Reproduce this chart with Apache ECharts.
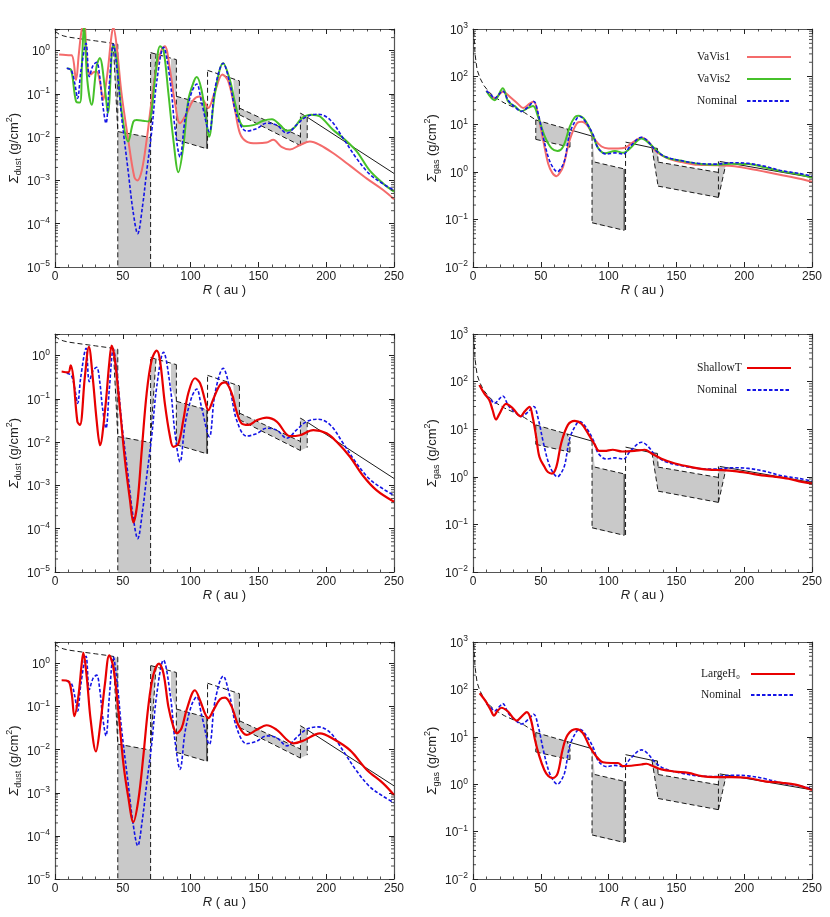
<!DOCTYPE html>
<html><head><meta charset="utf-8">
<script src="https://cdn.jsdelivr.net/npm/echarts@6/dist/echarts.min.js"></script>
<style>html,body{margin:0;padding:0;background:#fff}#c{width:830px;height:917px}</style>
</head><body><div id="c"></div><script>
// ---------------- data ----------------
// Dust: Nominal
const nomDustR = [8.6,12,14.5,16.7,19,22.9,25.3,28,30.7,33,35,37.6,40,43,46,49,54,57.5,61,64.5,67.6,71.3,75,80,85,88.5,92.2,96,100.8,104.5,108,113.8,118,124,129,134,141.3,148.7,156,163.5,171,178,185.6,194,203,212.6,222.5,232,242,250];
const nomDustS = [0.39,0.35,0.18,0.079,0.32,1.48,0.25,0.45,0.54,0.25,0.063,0.021,0.16,1.41,0.32,0.032,0.0016,2.0e-4,5.9e-5,2.5e-4,0.0016,0.0135,0.19,1.2,0.19,0.016,0.0035,0.027,0.11,0.17,0.066,0.0133,0.135,0.51,0.17,0.032,0.0138,0.0158,0.021,0.019,0.0123,0.019,0.030,0.034,0.025,0.0093,0.0032,0.0014,8.3e-4,5.9e-4];
// Dust: VaVis1
const vv1DustR = [3,8,12.3,15.5,17.5,19.7,21.5,23.8,26.3,28.5,30.7,33,35.6,37.5,39.3,41.5,43,45.5,49,54,58.5,60.7,64,67.6,71.3,75,78.7,81,84.8,88.5,92.2,97,102,106.5,110.6,113,118,123.5,127.8,132.7,136.4,141.3,148.7,156,161,167,173.3,180.7,188,195.4,205,217.5,230,242,250];
const vv1DustS = [0.81,0.79,0.78,0.21,0.8,3.1,4.5,0.44,0.28,0.32,0.33,0.2,0.072,0.16,0.44,2.0,3.5,1.26,0.105,0.0087,0.0012,0.001,0.0017,0.0087,0.072,0.44,1.05,1.26,0.36,0.062,0.021,0.035,0.072,0.087,0.062,0.047,0.115,0.28,0.195,0.043,0.0123,0.0079,0.0072,0.0075,0.0087,0.006,0.0052,0.0066,0.0079,0.0066,0.0043,0.0022,0.0011,6.0e-4,3.7e-4];
// Dust: VaVis2
const vv2DustR = [9,12,15.5,18.4,20,21.4,23.8,27,30.7,33,36.9,39,43,45.5,49,54,57.8,60.2,65,68.8,71.3,73.7,77.5,80,83.6,87.3,91,94.6,98.3,102,104.5,108,111.8,113.6,118,124,129,134,139,146.3,153.6,160,166,171,176,182,189,195.4,205,212.6,222.5,232,242,250];
const vv2DustS = [0.39,0.35,0.068,0.063,0.63,4.0,0.21,0.056,0.44,0.68,0.126,0.036,1.38,0.62,0.043,0.0079,0.023,0.025,0.024,0.023,0.043,0.21,1.26,1.05,0.105,0.0087,0.00155,0.006,0.072,0.18,0.245,0.126,0.021,0.0102,0.105,0.51,0.21,0.043,0.018,0.019,0.024,0.026,0.019,0.014,0.016,0.0275,0.033,0.030,0.0148,0.0095,0.0047,0.0017,8.5e-4,5.5e-4];
// Dust: ShallowT
const shDustR = [4.9,9.8,11.6,13.5,16.5,18.4,22,25,27.8,30.7,33.2,36.9,40,41.8,44.2,48,51.6,55.3,57.8,60.7,64,67.6,71.3,75,77.4,81,84.8,87.3,91,94.6,98.3,103.2,107,110.6,113,116.8,121.7,125.4,130.3,134,137.7,142.6,148.7,156,163.5,173.3,180.7,190.5,200.3,207.7,217.5,227,237,250];
const shDustS = [0.43,0.41,0.6,0.32,0.03,0.025,0.32,1.6,0.32,0.032,0.0085,0.055,0.66,1.7,0.79,0.055,0.0038,4.6e-4,1.4e-4,3.8e-4,0.0066,0.135,0.79,1.3,0.79,0.079,0.0135,0.0078,0.0093,0.032,0.135,0.30,0.23,0.093,0.055,0.10,0.21,0.24,0.135,0.05,0.027,0.025,0.032,0.037,0.03,0.0138,0.0145,0.019,0.016,0.0102,0.0046,0.0017,7.8e-4,4.2e-4];
// Dust: LargeH0
const lhDustR = [4.9,9.8,12.3,14.3,17.2,19.7,20.9,23.4,26.3,30.2,33.2,36.9,40,43,46.7,50.4,54,57.8,61.5,65.1,68.8,72.5,76.7,80,83.6,87.3,89.7,93.4,97,103.2,107,110.6,113,116.8,121.7,125.4,130.3,135.2,141.3,148.7,156,163.5,175.8,183,195.4,205,217.5,230,242,250];
const lhDustS = [0.41,0.39,0.20,0.06,0.17,1.0,1.76,0.49,0.049,0.0091,0.034,0.35,1.55,0.83,0.083,0.0049,8.1e-4,2.1e-4,6.9e-4,0.0069,0.1,0.54,1.0,0.59,0.1,0.034,0.024,0.032,0.083,0.24,0.14,0.069,0.054,0.083,0.148,0.162,0.1,0.037,0.022,0.029,0.037,0.029,0.0141,0.0162,0.024,0.018,0.0098,0.0034,0.00166,8.9e-4];

// Gas: Nominal
const nomGasR = [9.9,13,16,19,22,25.9,30.8,35.7,40.6,44.8,48,51.7,55.4,58.5,62.3,65,67.7,71.4,76.4,78.8,83.7,88.7,92.4,98.5,104.7,110.8,115.8,124.4,129.3,134.2,141.6,154,166,178.6,191,203,215.5,228,240,250];
const nomGasS = [50,42,35,42,50,32,23,18.6,23,30,17,5.5,2.1,1.3,1.0,1.2,1.8,6.5,13,14.5,10.5,5.9,3.1,2.35,2.5,2.35,3.4,5.3,4.3,2.9,2.1,1.7,1.5,1.45,1.55,1.5,1.3,1.05,0.93,0.81];
// Gas: VaVis1
const vv1GasR = [9.9,16,22,27,33,37,42,44.8,48,51.7,55.4,58.5,61.6,64,66.5,71.4,76.4,80,85,90,94.8,99.8,107,112,117,124.4,129.3,135.5,144,154,166,178.6,191,203,215.5,228,240,250];
const vv1GasS = [50,35,48,38,27,22,27.5,30,15.5,4.7,1.5,0.95,0.81,0.95,1.3,4.7,10.2,11.2,8.9,4.7,3.4,3.1,3.1,3.2,4.0,5.2,4.3,2.6,1.9,1.6,1.4,1.38,1.32,1.17,1.0,0.85,0.72,0.62];
// Gas: VaVis2
const vv2GasR = [9.9,16,22,25.9,30.8,35.7,40.6,44.3,48,53,58,62.3,66.5,71.4,75,77.6,82.5,88.7,92.4,97.3,104.7,110.8,115.8,124.4,129.3,141.6,154,166,178.6,191,203,215.5,228,240,250];
const vv2GasS = [50,32,57,30,24,18.6,22,24,14.5,5.5,3.1,2.75,3.4,8.9,14,15,12.3,5.5,3.1,2.45,2.75,2.5,3.1,5.0,4.1,2.05,1.7,1.48,1.41,1.48,1.45,1.23,1.02,0.89,0.76];
// Gas: ShallowT
const shGasR = [4.7,8.4,12,14.5,17,19.5,24.4,29.3,35,38,41.7,44,46.6,49,52.8,55.2,58.2,61.4,65,70,75,80,85,89.7,93,97,103,110,119,126.7,131.7,139,149,161,173.6,183.4,193,203,213,222.9,232.7,242.6,250];
const shGasS = [85,56,41,25,16,21,34,27.5,18.6,23.4,29.5,18,6.9,2.6,1.6,1.26,1.17,1.6,5.0,12.3,15,13,8.0,4.8,3.5,3.5,3.7,3.4,3.5,3.7,3.1,2.4,1.9,1.6,1.41,1.38,1.32,1.2,1.07,1.0,0.91,0.78,0.72];
// Gas: LargeH0
const lhGasR = [4.9,9.4,13,15.5,18,21,25.4,32.3,36.5,39.7,42.7,45.7,48.9,52.6,55.5,58.7,62.4,66.1,69.8,76,81,85.9,90.8,95.8,101.9,106.9,110.6,116.7,124.1,127.8,132.8,139,148.8,158.7,168.6,178.4,190.8,203,215.4,227.8,237.7,250];
const lhGasS = [83,56,37,28,35,41,35,22,28,33,23,8.7,3.9,2.0,1.5,1.35,1.7,5.4,11,14.5,12,6.3,3.9,2.9,2.8,2.8,2.4,2.45,2.6,2.7,2.4,2.05,1.85,1.74,1.48,1.41,1.41,1.35,1.15,1.07,0.98,0.76];

// Gap model (shaded ranges) and boundaries: [R, Sigma] vertices
const dustGapPolys = [
  [[43,1.45],[46.3,1.35],[46.3,0.0135]],
  [[46.3,0.0135],[70.5,0.0098],[70.5,1e-5],[46.3,1e-5]],
  [[70.5,0.9],[74.5,0.85],[70.5,0.012]],
  [[85.5,0.66],[89.5,0.62],[89.5,0.088],[85.5,0.2]],
  [[89.5,0.088],[112,0.056],[112,0.0054],[89.5,0.0087]],
  [[131.5,0.22],[136,0.2],[136,0.033],[132.5,0.06]],
  [[136,0.047],[181,0.0104],[181,0.0064],[136,0.033]],
  [[181,0.036],[186,0.029],[186,0.0075],[181,0.0064]]
];
const dustDashed = [
  [[0,2.8],[3,2.4],[6,2.2],[10,2.05],[20,1.85],[30,1.68],[40,1.52],[46.3,1.4]],
  [[46.3,1.4],[46.3,1e-5]],
  [[43,1.45],[46.3,0.0135]],
  [[46.3,0.0135],[70.5,0.0098]],
  [[70.5,1e-5],[70.5,0.9]],
  [[70.5,0.9],[89.5,0.62]],
  [[74.5,0.85],[70.5,0.012]],
  [[89.5,0.62],[89.5,0.0087]],
  [[89.5,0.088],[112,0.056]],
  [[89.5,0.0087],[112,0.0054]],
  [[112.5,0.0054],[112.5,0.35]],
  [[112.5,0.35],[136,0.2]],
  [[136,0.2],[136,0.033]],
  [[136,0.047],[181,0.0104]],
  [[136,0.033],[181,0.0064]],
  [[181,0.0064],[181,0.036]],
  [[181,0.036],[186,0.029]],
  [[186,0.029],[186,0.0075]]
];
const dustSolid = [
  [[112,0.0054],[112,0.056]],
  [[186,0.029],[250,0.00145]]
];
const gasGapPolys = [
  [[46.3,12.3],[69.5,7.9],[71.5,5.5],[71.5,3.3],[46.3,4.8]],
  [[87.8,5.7],[89.8,1.6],[111.5,1.15],[111.5,0.059],[89.8,0.08],[87.8,0.085]],
  [[132,3.2],[136,3.1],[136.5,1.6],[181,0.97],[181,0.29],[136.5,0.5]],
  [[181,1.65],[186.5,1.45],[181,0.29]]
];
const gasDashed = [
  [[0.6,900],[1.5,300],[3,140],[5,95],[8,65],[12,47],[16,37],[23,28],[31,22],[38,17.5],[46.3,12.3]],
  [[46.3,12.3],[71,7.7]],
  [[46.3,12.3],[46.3,4.8]],
  [[46.3,4.8],[71.5,3.3]],
  [[71.5,3.3],[71.5,5.5],[69.5,7.9]],
  [[87.8,5.7],[87.8,0.085]],
  [[89.8,1.6],[111.5,1.15]],
  [[87.8,0.085],[111.5,0.059]],
  [[112.5,0.06],[112.5,4.2]],
  [[132,3.2],[136.5,0.5]],
  [[136,3.1],[136.5,1.6]],
  [[136.5,1.6],[181,0.97]],
  [[136.5,0.5],[181,0.29]],
  [[181,0.29],[181,1.65]],
  [[181,0.29],[186.5,1.45]]
];
const gasSolid = [
  [[71,7.7],[88,5.6]],
  [[111.5,0.059],[111.5,1.15]],
  [[112.5,4.2],[132,3.2],[136,3.1]],
  [[182,1.65],[250,0.76]]
];

const xTicks = {min:0, max:250, interval:50};
const dustRange = {min:1e-5, max:3.1623};
const gasRange = {min:1e-2, max:1e3};

// ---------------- styles ----------------
const FONT = 'Liberation Sans';
const SERIF = 'Liberation Serif';
const styles = {
  'VaVis1': {color:'#f46b6b', width:2, type:'solid'},
  'VaVis2': {color:'#46c12a', width:2, type:'solid'},
  'Nominal': {color:'#1414e6', width:1.6, type:[3.5,2]},
  'ShallowT': {color:'#e80000', width:2.2, type:'solid'},
  'LargeH₀': {color:'#e80000', width:2.2, type:'solid'}
};
const grids = [
  {left:55, top:29, width:339, height:238},
  {left:473, top:29, width:339, height:238},
  {left:55, top:334, width:339, height:238},
  {left:473, top:334, width:339, height:238},
  {left:55, top:642, width:339, height:237},
  {left:473, top:642, width:339, height:237}
];
const panels = [
  {kind:'dust', curves:[['VaVis1',vv1DustR,vv1DustS],['VaVis2',vv2DustR,vv2DustS],['Nominal',nomDustR,nomDustS]]},
  {kind:'gas', curves:[['VaVis1',vv1GasR,vv1GasS],['VaVis2',vv2GasR,vv2GasS],['Nominal',nomGasR,nomGasS]]},
  {kind:'dust', curves:[['Nominal',nomDustR,nomDustS],['ShallowT',shDustR,shDustS]]},
  {kind:'gas', curves:[['Nominal',nomGasR,nomGasS],['ShallowT',shGasR,shGasS]]},
  {kind:'dust', curves:[['Nominal',nomDustR,nomDustS],['LargeH₀',lhDustR,lhDustS]]},
  {kind:'gas', curves:[['Nominal',nomGasR,nomGasS],['LargeH₀',lhGasR,lhGasS]]}
];

function fmtPow(v){
  const e = Math.log10(v), r = Math.round(e);
  if (Math.abs(e - r) > 1e-6) return '';
  return '{a|10}{b|' + (r < 0 ? '−' + (-r) : String(r)) + '}';
}
const axisLineStyle = {color:'#555', width:1.2};
function mkX(i, pos){
  const main = pos === 'bottom';
  return {type:'value', gridIndex:i, position:pos, min:xTicks.min, max:xTicks.max, interval:xTicks.interval,
    axisLine:{show:true, onZero:false, lineStyle:axisLineStyle},
    axisTick:{show:true, inside:true, length:5, lineStyle:{color:'#222', width:1}},
    minorTick:{show:true, splitNumber:5, length:2.5, lineStyle:{color:'#222', width:0.8}},
    splitLine:{show:false}, minorSplitLine:{show:false},
    axisLabel:{show:main, margin:4, fontFamily:FONT, fontSize:12, color:'#222'},
    name: main ? '{i|R}{t| ( au )}' : '', nameLocation:'middle', nameGap:10,
    nameTextStyle:{rich:{
      i:{fontFamily:FONT, fontSize:13, fontStyle:'italic', color:'#222', lineHeight:16},
      t:{fontFamily:FONT, fontSize:13, color:'#222', lineHeight:16}}}
  };
}
function mkY(i, pos, kind){
  const main = pos === 'left';
  const rg = kind === 'dust' ? dustRange : gasRange;
  const sub = kind === 'dust' ? 'dust' : 'gas';
  return {type:'log', logBase:10, gridIndex:i, position:pos, min:rg.min, max:rg.max, interval:1,
    axisLine:{show:true, onZero:false, lineStyle:axisLineStyle},
    axisTick:{show:true, inside:true, length:5, lineStyle:{color:'#222', width:1}},
    minorTick:{show:false}, splitLine:{show:false},
    axisLabel:{show:main, margin:5, formatter:fmtPow, color:'#222', rich:{
      a:{fontFamily:FONT, fontSize:12, lineHeight:15, verticalAlign:'bottom', color:'#222'},
      b:{fontFamily:FONT, fontSize:8.5, lineHeight:8, verticalAlign:'top', color:'#222'}}},
    name: main ? '{i|Σ}{sub|' + sub + '}{t| (g/cm}{sup|2}{t|)}' : '',
    nameLocation:'middle', nameRotate:90, nameGap:31,
    nameTextStyle:{rich:{
      i:{fontFamily:FONT, fontSize:13, fontStyle:'italic', lineHeight:18, verticalAlign:'middle', color:'#222'},
      t:{fontFamily:FONT, fontSize:13, lineHeight:18, verticalAlign:'middle', color:'#222'},
      sub:{fontFamily:FONT, fontSize:9, lineHeight:9, verticalAlign:'bottom', color:'#222'},
      sup:{fontFamily:FONT, fontSize:9, lineHeight:9, verticalAlign:'top', color:'#222'}}}
  };
}
function polySeries(i, polys){
  return {type:'custom', xAxisIndex:i, yAxisIndex:i, silent:true, z:1,
    data: polys.map(p => p[0]),
    renderItem: (params, api) => ({type:'polygon',
      shape:{points: polys[params.dataIndex].map(p => api.coord(p))},
      style:{fill:'#c9c9c9', stroke:null}})
  };
}
function segSeries(i, segs, dashed){
  return {type:'custom', xAxisIndex:i, yAxisIndex:i, silent:true, z:2,
    data: segs.map(s => s[0]),
    renderItem: (params, api) => ({type:'polyline',
      shape:{points: segs[params.dataIndex].map(p => api.coord(p))},
      style:{stroke:'#1a1a1a', lineWidth:1, fill:null, lineDash: dashed ? [5,3] : null}})
  };
}
function minorTickSeries(i, kind){
  const rg = kind === 'dust' ? dustRange : gasRange;
  const vals = [];
  for (let e = Math.round(Math.log10(rg.min)); e <= Math.floor(Math.log10(rg.max)); e++)
    for (let m = 2; m <= 9; m++) { const v = m * Math.pow(10, e); if (v < rg.max) vals.push([xTicks.min, v]); }
  return {type:'custom', xAxisIndex:i, yAxisIndex:i, silent:true, z:6, data: vals,
    renderItem: (params, api) => {
      const v = api.value(1);
      const L = api.coord([xTicks.min, v]), Rt = api.coord([xTicks.max, v]);
      return {type:'group', children:[
        {type:'line', shape:{x1:L[0], y1:L[1], x2:L[0]+3, y2:L[1]}, style:{stroke:'#222', lineWidth:0.8}},
        {type:'line', shape:{x1:Rt[0]-3, y1:Rt[1], x2:Rt[0], y2:Rt[1]}, style:{stroke:'#222', lineWidth:0.8}}]};
    }};
}

const xAxes = [], yAxes = [], series = [];
panels.forEach((p, i) => { xAxes.push(mkX(i, 'bottom')); yAxes.push(mkY(i, 'left', p.kind)); });
panels.forEach((p, i) => { xAxes.push(mkX(i, 'top')); yAxes.push(mkY(i, 'right', p.kind)); });
panels.forEach((p, i) => {
  const dust = p.kind === 'dust';
  series.push(polySeries(i, dust ? dustGapPolys : gasGapPolys));
  series.push(segSeries(i, dust ? dustDashed : gasDashed, true));
  series.push(segSeries(i, dust ? dustSolid : gasSolid, false));
  p.curves.forEach(([name, R, S]) => {
    const st = styles[name];
    series.push({type:'line', name, xAxisIndex:i, yAxisIndex:i, smooth:0.35, symbol:'none', z:4,
      data: R.map((r, k) => [r, S[k]]),
      lineStyle:{color:st.color, width:st.width, type:st.type}, itemStyle:{color:st.color}});
  });
  series.push(minorTickSeries(i, p.kind));
});

function mkLegend(names, left, top, gap){
  return {data:names, left, top, orient:'vertical', align:'right', itemWidth:44, itemHeight:10,
    itemGap:gap, selectedMode:false, formatter:'{n|{name}}',
    itemStyle:{opacity:0, borderWidth:0},
    textStyle:{fontFamily:SERIF, fontSize:11.5, color:'#222', lineHeight:14,
      rich:{n:{width:45, align:'left', fontFamily:SERIF, fontSize:11.5, color:'#222', lineHeight:14}}}};
}

const option = {
  animation:false, backgroundColor:'#fff',
  grid: grids.map(g => Object.assign({containLabel:false}, g)),
  xAxis: xAxes, yAxis: yAxes,
  legend: [
    mkLegend(['VaVis1','VaVis2','Nominal'], 692, 45, 8),
    mkLegend(['ShallowT','Nominal'], 692, 356, 8),
    mkLegend(['LargeH₀','Nominal'], 696, 662, 7)
  ],
  series
};
const chart = echarts.init(document.getElementById('c'));
chart.setOption(option);
</script></body></html>
